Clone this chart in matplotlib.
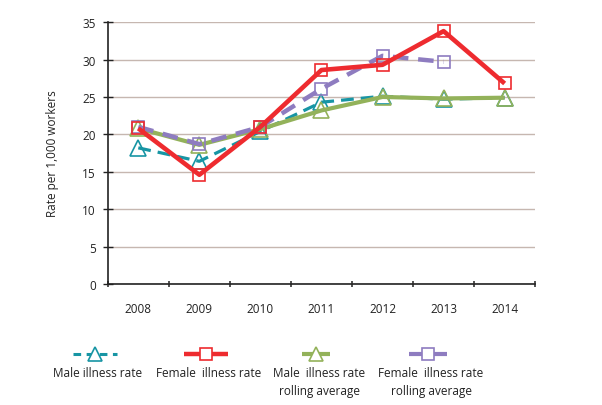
import numpy as np
import matplotlib
matplotlib.use("Agg")
import matplotlib.pyplot as plt
from matplotlib.lines import Line2D

# --- dati ---
anni = ["2008", "2009", "2010", "2011", "2012", "2013", "2014"]
maschi = [18.2, 16.4, 20.4, 24.3, 25.1, 24.7, 24.9]
femmine = [20.8, 14.6, 21.0, 28.6, 29.3, 33.8, 26.8]
maschi_media = [20.8, 18.6, 20.7, 23.2, 25.0, 24.8, 24.9]
femmine_media = [21.0, 18.7, 21.0, 26.1, 30.5, 29.7]

etichette = ["Male illness rate", "Female  illness rate",
             "Male  illness rate\nrolling average", "Female  illness rate\nrolling average"]

TEAL = "#1795a4"
ROSSO = "#ee2b2f"
VERDE = "#93b25a"
VIOLA = "#8e7cc0"

plt.rcParams["font.family"] = ["Open Sans", "DejaVu Sans"]

fig = plt.figure(figsize=(6.02, 4.06), dpi=100)
ax = fig.add_axes([0.179, 0.298, 0.710, 0.645])

x = np.arange(len(anni))

stili = [
    dict(y=maschi, color=TEAL, lw=2.3, ls=(0, (4, 2.2)), marker="^", ms=11, z=3),
    dict(y=maschi_media, color=VERDE, lw=3.0, ls="-", marker="^", ms=11, z=4),
    dict(y=femmine_media, color=VIOLA, lw=3.2, ls=(0, (3.5, 2.2)), marker="s", ms=9, z=5),
    dict(y=femmine, color=ROSSO, lw=3.3, ls="-", marker="s", ms=9, z=6),
]
for s in stili:
    ax.plot(x[:len(s["y"])], s["y"], color=s["color"], lw=s["lw"], ls=s["ls"],
            marker=s["marker"], ms=s["ms"], mfc="none", mec=s["color"], mew=1.2,
            zorder=s["z"], solid_capstyle="butt", dash_capstyle="butt")

ax.set_xlim(-0.5, len(anni) - 0.5)
ax.set_ylim(0, 35)
ax.set_yticks(range(0, 36, 5))
ax.yaxis.grid(True, color="#c6b7b0", lw=1.0)
ax.set_axisbelow(True)
for lato in ["top", "right"]:
    ax.spines[lato].set_visible(False)
ax.spines["left"].set_color("#222222")
ax.spines["bottom"].set_color("#222222")
ax.spines["left"].set_linewidth(1.2)
ax.spines["bottom"].set_linewidth(1.2)

# tacche sull'asse x ai bordi delle categorie, etichette al centro
ax.set_xticks(np.arange(-0.5, len(anni), 1.0))
ax.set_xticklabels([])
ax.set_xticks(x, minor=True)
ax.set_xticklabels(anni, minor=True)
ax.tick_params(axis="x", which="major", direction="inout", length=5, width=1.1, color="#222222")
ax.tick_params(axis="x", which="minor", length=0, pad=13, labelsize=8.5, labelcolor="#222222")
ax.tick_params(axis="y", direction="inout", length=7, width=1.0, color="#222222",
               labelsize=8.5, labelcolor="#222222", pad=5)
ax.set_ylabel("Rate per 1,000 workers", fontsize=8.5, color="#222222", labelpad=17)

# --- legenda disegnata a mano sotto il grafico ---
centri = [95, 206, 316, 428]
larghezze = [44, 44, 28, 38]
legenda = [
    dict(color=TEAL, lw=2.2, ls=(0, (2.5, 1.8)), marker="^", ms=10),
    dict(color=ROSSO, lw=3.2, ls="-", marker="s", ms=9),
    dict(color=VERDE, lw=3.0, ls="-", marker="^", ms=10),
    dict(color=VIOLA, lw=3.0, ls="-", marker="s", ms=9),
]
W, H = 602.0, 406.0
y_man = 1 - 355 / H
for c, w, st, testo in zip(centri, larghezze, legenda, etichette):
    xs = [(c - w / 2) / W, (c + w / 2) / W]
    fig.add_artist(Line2D(xs, [y_man, y_man], transform=fig.transFigure,
                          color=st["color"], lw=st["lw"], ls=st["ls"],
                          solid_capstyle="butt", dash_capstyle="butt"))
    fig.add_artist(Line2D([c / W], [y_man], transform=fig.transFigure,
                          marker=st["marker"], ms=st["ms"], mfc="white",
                          mec=st["color"], mew=1.2, ls="none"))
    fig.text(c / W + 0.005, 1 - 367 / H, testo, ha="center", va="top",
             fontsize=8.5, color="#222222", linespacing=1.5)

fig.savefig("out.png", dpi=100)
